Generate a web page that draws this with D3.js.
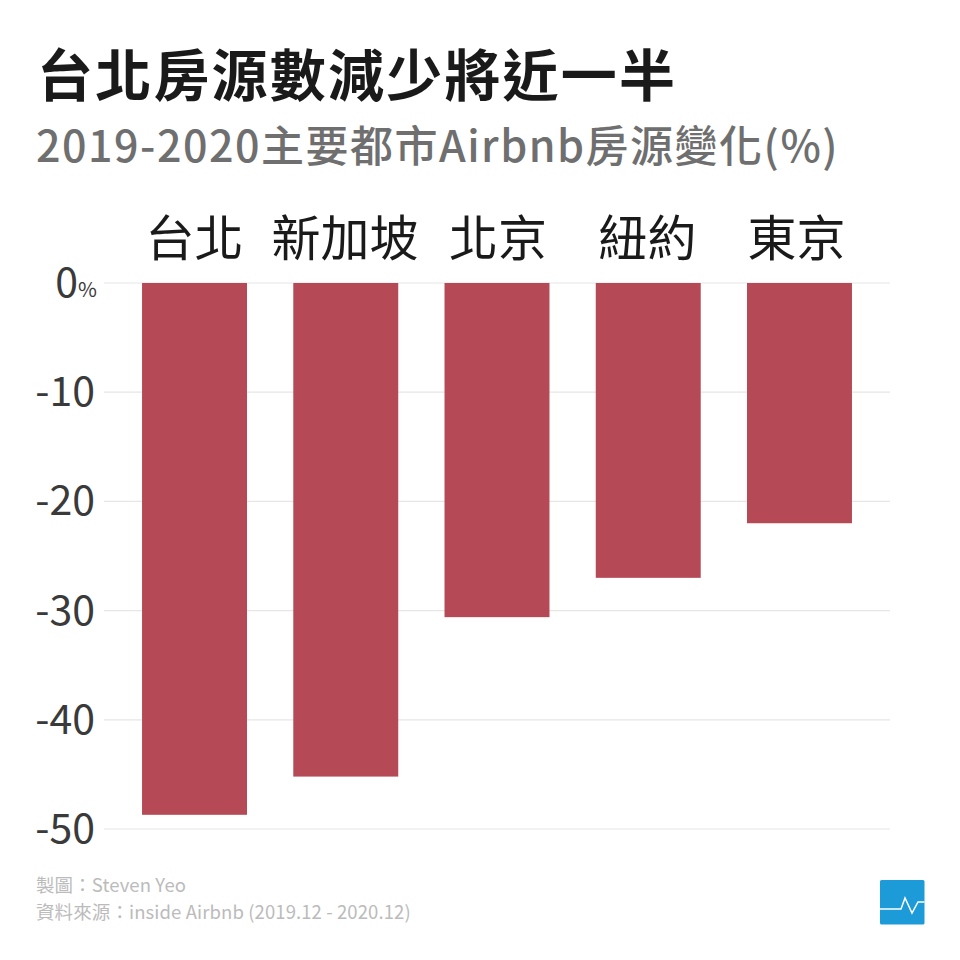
<!DOCTYPE html>
<html>
<head>
<meta charset="utf-8">
<script src="https://cdn.jsdelivr.net/npm/d3@7"></script>
<style>
  html, body { margin: 0; padding: 0; background: #fff; }
  text { font-family: "Noto Sans CJK TC", "Noto Sans", sans-serif; }
</style>
</head>
<body>
<svg id="chart"></svg>
<script>
// Airbnb listing change by city
const cities = ['台北', '新加坡', '北京', '紐約', '東京'];
const changes = [-48.7, -45.2, -30.6, -27, -22];
const yTicks = [0, -10, -20, -30, -40, -50];

const W = 960, H = 960;
const svg = d3.select('#chart').attr('width', W).attr('height', H);

svg.append('rect').attr('width', W).attr('height', H).attr('fill', '#fff');

const x = d3.scaleBand().domain(cities).range([118.9, 875.1])
  .paddingInner(0.306).paddingOuter(0.153);
const y = d3.scaleLinear().domain([0, -50]).range([283, 829]);

// City labels sit slightly off the bar centres in the original
const labelNudge = { '台北': 0, '新加坡': -0.7, '北京': 1, '紐約': -0.7, '東京': -3 };

// Title block
svg.append('text').attr('x', 37).attr('y', 96)
  .attr('font-size', 56).attr('font-weight', 700).attr('fill', '#1a1a1a')
  .attr('letter-spacing', 2.2)
  .text('台北房源數減少將近一半');
svg.append('text').attr('x', 36).attr('y', 162)
  .attr('font-size', 43).attr('font-weight', 500).attr('fill', '#6f6f6f')
  .attr('letter-spacing', 1.5)
  .text('2019-2020主要都市Airbnb房源變化(%)');

// Gridlines
svg.selectAll('.grid').data(yTicks).join('line').attr('class', 'grid')
  .attr('x1', 104).attr('x2', 890)
  .attr('y1', d => y(d)).attr('y2', d => y(d))
  .attr('stroke', '#e6e6e6').attr('stroke-width', 1.2);

// Bars
svg.selectAll('.bar').data(cities).join('rect').attr('class', 'bar')
  .attr('x', d => x(d)).attr('width', x.bandwidth())
  .attr('y', y(0))
  .attr('height', (d, i) => y(changes[i]) - y(0))
  .attr('fill', '#b54a56');

// City labels
svg.selectAll('.city').data(cities).join('text').attr('class', 'city')
  .attr('x', d => x(d) + x.bandwidth() / 2 + labelNudge[d]).attr('y', 256)
  .attr('text-anchor', 'middle').attr('font-size', 49).attr('fill', '#1a1a1a')
  .text(d => d);

// Y tick labels
svg.selectAll('.tick-label').data(yTicks).join('text').attr('class', 'tick-label')
  .attr('x', 95).attr('y', d => y(d) + 14)
  .attr('text-anchor', 'end').attr('font-size', 41).attr('fill', '#3a3a3a')
  .text(d => d === 0 ? '' : d);
const zero = svg.append('text').attr('x', 97).attr('y', y(0) + 14)
  .attr('text-anchor', 'end').attr('fill', '#3a3a3a');
zero.append('tspan').attr('font-size', 41).text('0');
zero.append('tspan').attr('font-size', 20.5).text('%');

// Credits
svg.append('text').attr('x', 36).attr('y', 892)
  .attr('font-size', 18.5).attr('fill', '#bbb').attr('letter-spacing', 0.1)
  .text('製圖：Steven Yeo');
svg.append('text').attr('x', 36).attr('y', 919)
  .attr('font-size', 18.5).attr('fill', '#bbb').attr('letter-spacing', 0.1)
  .text('資料來源：inside Airbnb (2019.12 - 2020.12)');

// Logo
const logo = svg.append('g').attr('transform', 'translate(880,880)');
logo.append('rect').attr('width', 44.5).attr('height', 44.5).attr('rx', 1.5).attr('fill', '#1d9bd8');
logo.append('path').attr('d', 'M0,29H21L25,18L32,33L38,22H44.5')
  .attr('fill', 'none').attr('stroke', '#fff').attr('stroke-width', 1.5);
</script>
</body>
</html>
